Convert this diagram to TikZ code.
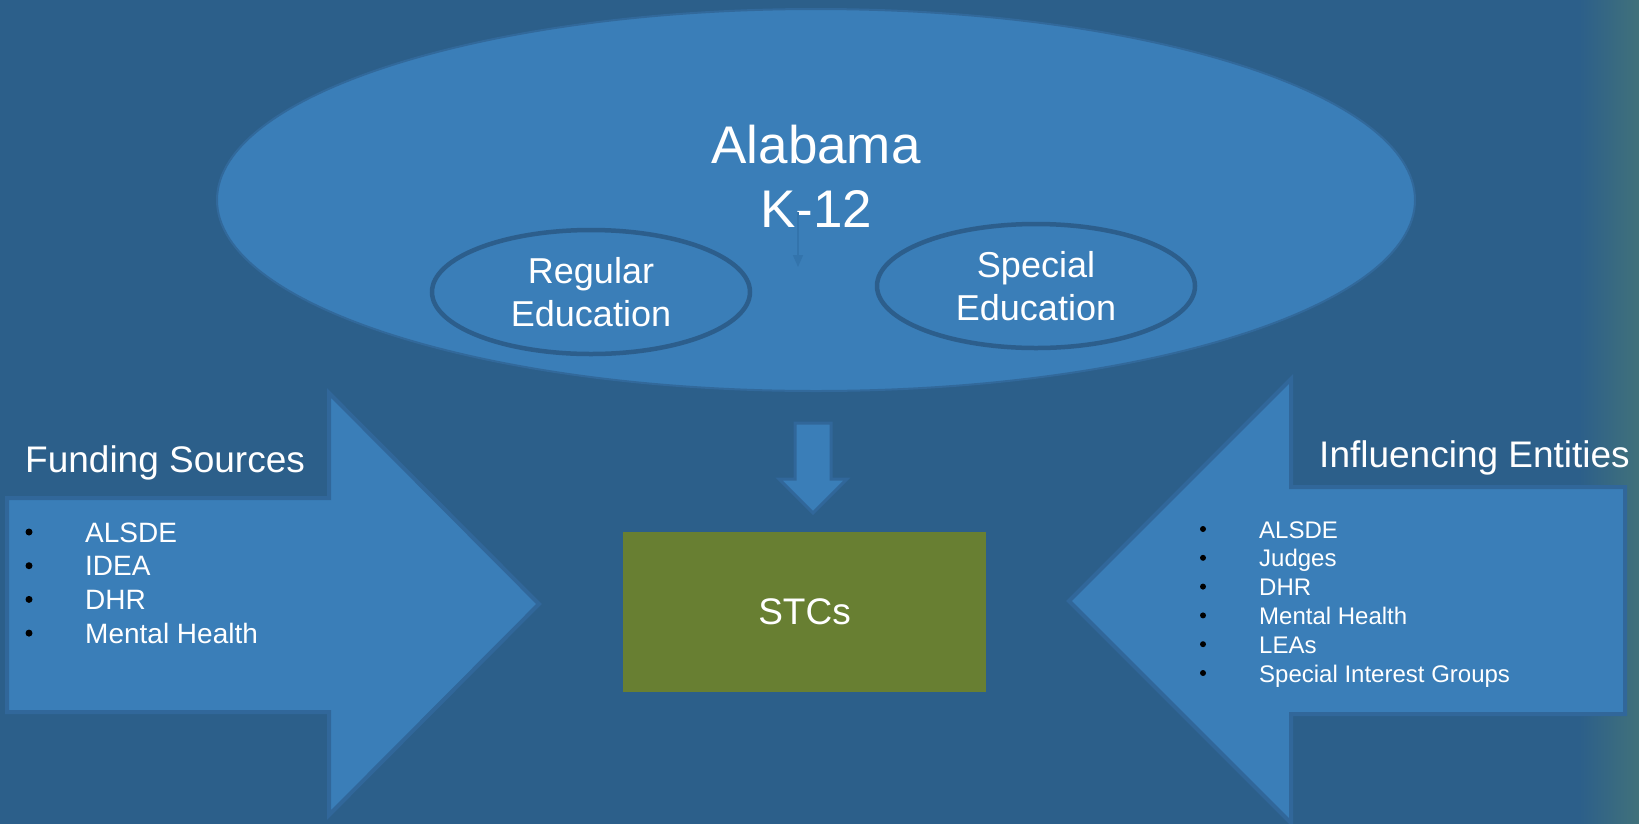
\documentclass[tikz,border=0pt]{standalone}
\usepackage{fontspec}
\setmainfont{Liberation Sans}
\usetikzlibrary{shapes.geometric,arrows.meta}
\definecolor{bgblue}{HTML}{2C5F8A}
\definecolor{midblue}{HTML}{3A7EB8}
\definecolor{edgeblue}{HTML}{32699B}
\definecolor{ringblue}{HTML}{2C5E8C}
\definecolor{faintblue}{HTML}{3374AC}
\definecolor{arrowedge}{HTML}{31679A}
\definecolor{olive}{HTML}{687F32}
\definecolor{tealedge}{HTML}{437379}

\begin{document}
\begin{tikzpicture}[x=1pt, y=-1pt,
  blob/.style = {shape=ellipse, fill=midblue, draw=edgeblue, inner sep=0pt,
    text=white, align=center},
  bigarrow/.style = {fill=midblue, draw=arrowedge, line width=4pt, line join=miter},
  whitetext/.style = {text=white, inner sep=0pt, align=center},
  listitem/.style = {text=white, inner sep=0pt, anchor=base west},
  dot/.style = {shape=circle, fill=black, inner sep=0pt}]

  % page and right edge tint
  \useasboundingbox (0,0) rectangle (1639,823);
  \fill[bgblue] (-5,-5) rectangle (1580,830);
  \shade[left color=bgblue, right color=tealedge] (1579,-5) rectangle (1645,830);

  % Alabama K-12
  \node[blob, line width=2pt, minimum width=1198pt, minimum height=382pt] (k12) at (816,200) {};
  \node[whitetext, font=\fontsize{53}{64}\selectfont] (title) at (816,176) {Alabama\\K-12};
  \coordinate (tickTop) at (798,212);
  \coordinate (tickEnd) at (798,267);
  \draw[faintblue, line width=1.5pt, -{Triangle[width=10pt,length=12pt]}] (tickTop) -- (tickEnd);
  \node[blob, draw=ringblue, line width=4.5pt, minimum width=318pt, minimum height=124pt,
    font=\fontsize{36}{43}\selectfont] (regular) at (591,292) {Regular\\Education};
  \node[blob, draw=ringblue, line width=4.5pt, minimum width=318pt, minimum height=124pt,
    font=\fontsize{36}{43}\selectfont] (special) at (1036,286) {Special\\Education};

  % block arrows
  \draw[bigarrow, line width=3pt] (795,423) -- (831,423) -- (831,479) -- (847,479)
    -- (813,513) -- (779,479) -- (795,479) -- cycle;
  \draw[bigarrow] (7,498) -- (329,498) -- (329,393) -- (539,604) -- (329,815)
    -- (329,712) -- (7,712) -- cycle;
  \draw[bigarrow] (1625,487) -- (1291,487) -- (1291,379) -- (1069,601) -- (1291,823)
    -- (1291,714) -- (1625,714) -- cycle;

  \node[fill=olive, text=white, minimum width=363pt, minimum height=160pt,
    font=\fontsize{37}{44}\selectfont] (stcs) at (804.5,612) {STCs};

  % Funding Sources
  \node[listitem, font=\fontsize{37}{44}\selectfont] (funding) at (25,472) {Funding Sources};
  \foreach \txt [count=\i] in {ALSDE, IDEA, DHR, Mental Health} {
    \node[dot, minimum size=7pt] (fdot\i) at (29,{498.3+33.7*\i}) {};
    \node[listitem, font=\fontsize{28}{34}\selectfont] (fund\i) at (85,{508.3+33.7*\i}) {\txt};
  }

  % Influencing Entities
  \node[whitetext, anchor=base east, font=\fontsize{37}{44}\selectfont] (influence) at (1630,467) {Influencing Entities};
  \foreach \txt [count=\i] in {ALSDE, Judges, DHR, Mental Health, LEAs, Special Interest Groups} {
    \node[dot, minimum size=6pt] (idot\i) at (1203,{500.2+28.8*\i}) {};
    \node[listitem, font=\fontsize{24}{29}\selectfont] (infl\i) at (1259,{509.2+28.8*\i}) {\txt};
  }
\end{tikzpicture}
\end{document}
